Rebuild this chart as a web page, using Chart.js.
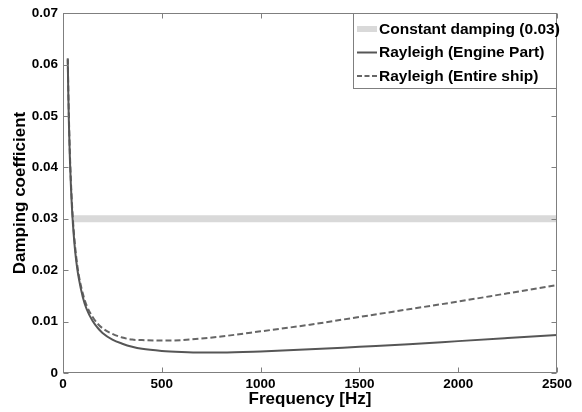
<!DOCTYPE html>
<html><head><meta charset="utf-8">
<script src="https://cdn.jsdelivr.net/npm/chart.js@4/dist/chart.umd.min.js"></script>
<style>html,body{margin:0;padding:0;background:#fff;}#wrap{width:582px;height:412px;}</style>
</head><body><div id="wrap"><canvas id="c" width="582" height="412"></canvas></div>
<script>
// ---- data ----
const frequencies   = [24, 27, 30, 35, 40, 45, 50, 60, 70, 80, 100, 120, 150, 175, 200, 250, 300, 350, 400, 500, 600, 700, 800, 1000, 1250, 1500, 1750, 2000, 2250, 2500];
const engineDamping = [0.0610, 0.0538, 0.0484, 0.0415, 0.0364, 0.0323, 0.0291, 0.0243, 0.0209, 0.0184, 0.0148, 0.0124, 0.0101, 0.0088, 0.0078, 0.0065, 0.0057, 0.0051, 0.0047, 0.0043, 0.0041, 0.0040, 0.0040, 0.0042, 0.0046, 0.0051, 0.0056, 0.0062, 0.0068, 0.0074];
const shipDamping   = [0.0612, 0.0550, 0.0495, 0.0425, 0.0373, 0.0332, 0.0299, 0.0251, 0.0216, 0.0190, 0.0155, 0.0131, 0.0109, 0.0096, 0.0087, 0.0076, 0.0069, 0.0065, 0.0064, 0.0063, 0.0064, 0.0067, 0.0071, 0.0081, 0.0094, 0.0109, 0.0124, 0.0139, 0.0155, 0.0171];
const constantFreqs = [55, 2500];
const constantDamping = [0.03, 0.03];
const seriesNames = ['Constant damping (0.03)', 'Rayleigh (Engine Part)', 'Rayleigh (Entire ship)'];
const xTicks = [0, 500, 1000, 1500, 2000, 2500];
const yTicks = [0, 0.01, 0.02, 0.03, 0.04, 0.05, 0.06, 0.07];
const xTitle = 'Frequency [Hz]';
const yTitle = 'Damping coefficient';

const FONT = '"Liberation Sans", Arial, Helvetica, sans-serif';
const toPts = (xs, ys) => xs.map((x, i) => ({x: x, y: ys[i]}));

const frame = {
  id: 'frame',
  afterDatasetsDraw(chart) {
    const {ctx, chartArea: a, scales: {x, y}} = chart;
    ctx.save();
    ctx.strokeStyle = '#7f7f7f';
    ctx.lineWidth = 1;
    const L = Math.round(a.left) + 0.5, R = Math.round(a.right) - 0.5;
    const T = Math.round(a.top) + 0.5, B = Math.round(a.bottom) - 0.5;
    ctx.strokeRect(L, T, R - L, B - T);
    ctx.beginPath();
    xTicks.forEach(v => {
      const px = Math.round(x.getPixelForValue(v)) + 0.5;
      ctx.moveTo(px, B); ctx.lineTo(px, B - 5);
      ctx.moveTo(px, T); ctx.lineTo(px, T + 5);
    });
    yTicks.forEach(v => {
      const py = Math.round(y.getPixelForValue(v)) + 0.5;
      ctx.moveTo(L, py); ctx.lineTo(L + 5, py);
      ctx.moveTo(R, py); ctx.lineTo(R - 5, py);
    });
    ctx.stroke();
    ctx.restore();
  }
};

const boxLegend = {
  id: 'boxLegend',
  afterDraw(chart) {
    const {ctx, chartArea: a} = chart;
    const left = 353.5, top = Math.round(a.top) + 0.5, right = Math.round(a.right) - 0.5, bottom = 88.5;
    ctx.save();
    ctx.fillStyle = '#ffffff';
    ctx.fillRect(left, top, right - left, bottom - top);
    ctx.strokeStyle = '#7f7f7f';
    ctx.lineWidth = 1;
    ctx.strokeRect(left, top, right - left, bottom - top);
    const rows = [29, 52.5, 76];
    const ds = chart.data.datasets;
    rows.forEach((ry, i) => {
      const d = ds[i];
      ctx.save();
      ctx.strokeStyle = d.borderColor;
      ctx.lineWidth = i === 0 ? 6 : 2;
      ctx.lineCap = 'butt';
      ctx.setLineDash(i === 2 ? [5, 2.5] : []);
      ctx.beginPath();
      ctx.moveTo(357, ry); ctx.lineTo(377, ry);
      ctx.stroke();
      ctx.restore();
      ctx.fillStyle = '#000';
      ctx.font = 'bold 15.5px ' + FONT;
      ctx.textAlign = 'left';
      ctx.textBaseline = 'middle';
      ctx.fillText(seriesNames[i], 379, ry + 0.5);
    });
    ctx.restore();
  }
};

new Chart(document.getElementById('c'), {
  type: 'line',
  data: {
    datasets: [
      {label: seriesNames[0], data: toPts(constantFreqs, constantDamping), borderColor: '#d9d9d9', borderWidth: 7, borderCapStyle: 'butt', pointRadius: 0, order: 3},
      {label: seriesNames[1], data: toPts(frequencies, engineDamping), borderColor: '#565656', borderWidth: 2, pointRadius: 0, cubicInterpolationMode: 'monotone', order: 1},
      {label: seriesNames[2], data: toPts(frequencies, shipDamping), borderColor: '#666666', borderWidth: 2, borderDash: [6, 3], pointRadius: 0, cubicInterpolationMode: 'monotone', order: 2}
    ]
  },
  options: {
    responsive: false,
    devicePixelRatio: 1,
    animation: false,
    events: [],
    layout: {padding: {left: 0, right: 25, top: 12, bottom: 0}},
    plugins: {legend: {display: false}, tooltip: {enabled: false}},
    scales: {
      x: {
        type: 'linear', min: 0, max: 2500,
        afterBuildTicks: s => { s.ticks = xTicks.map(v => ({value: v})); },
        afterFit: s => { s.height = 39; },
        grid: {display: false, drawTicks: false},
        border: {display: false},
        ticks: {color: '#000', font: {family: FONT, size: 13.5, weight: 'bold'}, padding: 3, maxRotation: 0, autoSkip: false, callback: v => String(v)},
        title: {display: true, text: xTitle, color: '#000', font: {family: FONT, size: 17, weight: 'bold'}, padding: {top: 0, bottom: 2}}
      },
      y: {
        type: 'linear', min: 0, max: 0.07,
        afterBuildTicks: s => { s.ticks = yTicks.map(v => ({value: v})); },
        afterFit: s => { s.width = 63; },
        grid: {display: false, drawTicks: false},
        border: {display: false},
        ticks: {color: '#000', font: {family: FONT, size: 13.5, weight: 'bold'}, padding: 5, autoSkip: false, callback: v => (v === 0 ? '0' : v.toFixed(2))},
        title: {display: true, text: yTitle, color: '#000', font: {family: FONT, size: 17, weight: 'bold'}, padding: {top: 10, bottom: 0}}
      }
    }
  },
  plugins: [frame, boxLegend]
});
</script>
</body></html>
